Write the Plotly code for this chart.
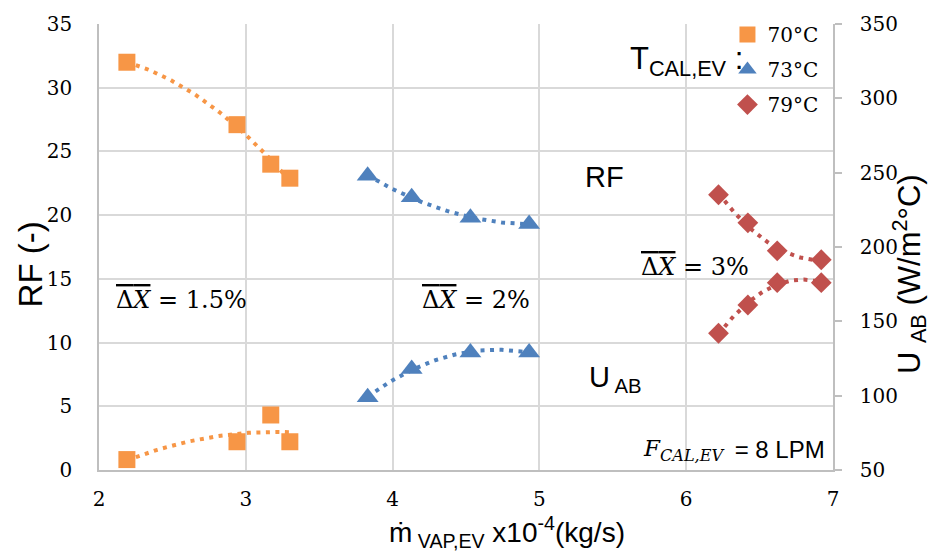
import numpy as np
import plotly.graph_objects as go

# Evaporator vapour mass flow (x10^-4 kg/s) per heating-water temperature
x_70 = [2.19, 2.94, 3.17, 3.30]
x_73 = [3.83, 4.13, 4.53, 4.93]
x_79 = [6.22, 6.42, 6.62, 6.92]

# Reduction factor RF (-), left axis
rf_70 = [32.0, 27.1, 24.0, 22.9]
rf_73 = [23.1, 21.4, 19.8, 19.3]
rf_79 = [21.6, 19.4, 17.2, 16.5]

# Overall heat transfer coefficient U_AB (W/m2°C), right axis
u_70 = [57, 69, 87, 69]
u_73 = [99, 118, 129, 129]
u_79 = [142, 161, 176, 176]

series_names = ["70°C", "73°C", "79°C"]
colors = ["#F79646", "#4F81BD", "#C0504D"]
symbols = ["square", "triangle-up", "diamond"]
sizes = [17, 19, 16]

SERIF = "DejaVu Serif"
SANS = "Liberation Sans"

fig = go.Figure()


def trend(xs, ys):
    """Second-order polynomial trendline over the data range."""
    c = np.polyfit(xs, ys, 2)
    xx = np.linspace(min(xs), max(xs), 60)
    return xx, np.polyval(c, xx)


groups = [
    (x_70, rf_70, u_70),
    (x_73, rf_73, u_73),
    (x_79, rf_79, u_79),
]

for i, (xs, rf, u) in enumerate(groups):
    for ys, axis in ((rf, "y"), (u, "y2")):
        tx, ty = trend(xs, ys)
        fig.add_trace(go.Scatter(
            x=tx, y=ty, yaxis=axis, mode="lines",
            line=dict(color=colors[i], width=4, dash="4px,5.5px"),
            showlegend=False, hoverinfo="skip"))
    for j, (ys, axis) in enumerate(((rf, "y"), (u, "y2"))):
        fig.add_trace(go.Scatter(
            x=xs, y=ys, yaxis=axis, mode="markers",
            marker=dict(symbol=symbols[i], size=sizes[i], color=colors[i]),
            name=series_names[i], legendgroup=series_names[i],
            showlegend=(j == 0)))

grid = "#D9D9D9"
axcol = "#BFBFBF"

fig.update_layout(
    width=939, height=554,
    margin=dict(l=99, r=106, t=16, b=84),
    paper_bgcolor="white", plot_bgcolor="white",
    font=dict(family=SERIF, color="black"),
    showlegend=True,
    legend=dict(
        x=0.987, xanchor="right", y=1.02, yanchor="top",
        bgcolor="rgba(0,0,0,0)", font=dict(family=SERIF, size=20),
        tracegroupgap=6, itemwidth=30,
    ),
    xaxis=dict(
        range=[2, 7], dtick=1, showgrid=True, gridcolor=grid, gridwidth=1.5,
        showline=True, linecolor=axcol, linewidth=1.5, zeroline=False,
        ticks="", ticklabelstandoff=10,
        tickfont=dict(family=SERIF, size=20),
    ),
    yaxis=dict(
        range=[0, 35], dtick=5, showgrid=True, gridcolor=grid, gridwidth=1.5,
        showline=True, linecolor=axcol, linewidth=1.5, zeroline=False,
        ticks="", ticklabelstandoff=21,
        tickfont=dict(family=SERIF, size=20),
    ),
    yaxis2=dict(
        range=[50, 350], dtick=50, overlaying="y", side="right",
        showgrid=False, zeroline=False,
        showline=True, linecolor=axcol, linewidth=1.5,
        ticks="outside", ticklen=7, tickcolor=axcol, tickwidth=1.5,
        ticklabelstandoff=14,
        tickfont=dict(family=SERIF, size=20),
    ),
)

# Axis titles, placed in paper coordinates
titles = [
    dict(x=0.556, y=-0.14, text="ṁ<sub> VAP,EV</sub> x10<sup>-4</sup>(kg/s)",
         textangle=0, font=dict(family=SANS, size=28)),
    dict(x=-0.094, y=0.461, text="RF (-)", textangle=-90,
         font=dict(family=SANS, size=33)),
    dict(x=1.104, y=0.44, text="U <sub>AB</sub> (W/m<sup>2</sup>°C)",
         textangle=-90, font=dict(family=SANS, size=31)),
]
for t in titles:
    t.update(xref="paper", yref="paper", xanchor="center", yanchor="middle",
             showarrow=False)

# Mean deviation labels: overlined "ΔX"
dx_bar = '<span style="text-decoration:overline">Δ<i>X</i></span>'
notes = [
    dict(x=2.10, y=13.37, text=dx_bar + " = 1.5%", xanchor="left",
         font=dict(family=SERIF, size=24)),
    dict(x=4.95, y=13.37, text=dx_bar + " = 2%", xanchor="right",
         font=dict(family=SERIF, size=24)),
    dict(x=6.44, y=15.9, text=dx_bar + " = 3%", xanchor="right",
         font=dict(family=SERIF, size=24)),
    dict(x=5.443, y=23.0, text="RF", xanchor="center",
         font=dict(family=SANS, size=29)),
    dict(x=5.52, y=7.15, text="U<sub> AB</sub>", xanchor="center",
         font=dict(family=SANS, size=29)),
    dict(x=6.27, y=1.6, text="<i>F<sub>CAL,EV</sub></i>", xanchor="right",
         font=dict(family=SERIF, size=23)),
    dict(x=6.27, y=1.6, text=" = 8 LPM", xanchor="left",
         font=dict(family=SANS, size=24)),
    dict(x=6.40, y=32.1, text="T<sub>CAL,EV</sub> :", xanchor="right",
         font=dict(family=SANS, size=31)),
]
for a in notes:
    a.update(xref="x", yref="y", showarrow=False)

fig.update_layout(annotations=titles + notes)

fig.write_html("out.html")
